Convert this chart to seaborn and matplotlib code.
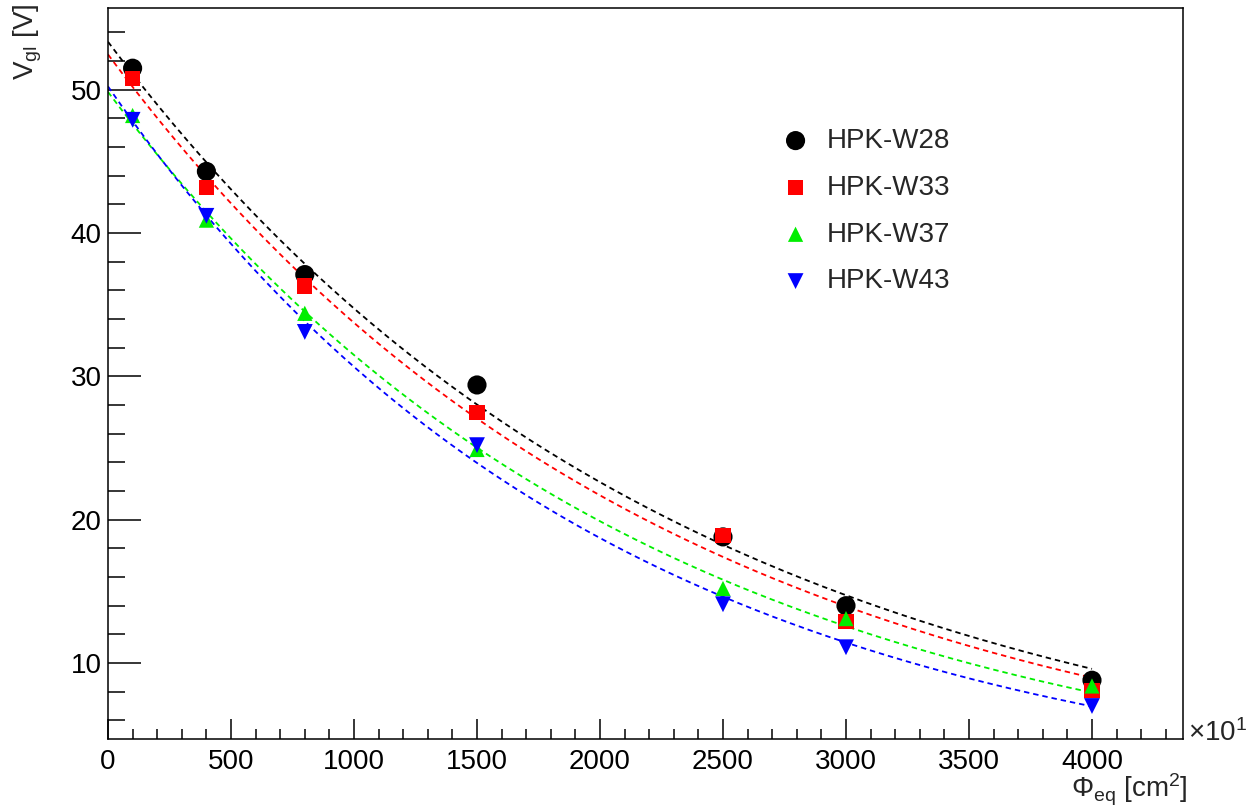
import numpy as np
import pandas as pd
import matplotlib
matplotlib.use("Agg")
import matplotlib.pyplot as plt
import seaborn as sns

# ---- data ----
fluence = [100, 400, 800, 1500, 2500, 3000, 4000]  # x10^1 cm^-2 units as displayed
w28 = [51.5, 44.3, 37.1, 29.4, 18.8, 14.0, 8.8]
w33 = [50.8, 43.2, 36.3, 27.5, 18.9, 12.9, 8.1]
w37 = [48.2, 40.9, 34.4, 24.9, 15.2, 13.1, 8.4]
w43 = [47.9, 41.2, 33.1, 25.2, 14.1, 11.1, 7.0]
labels = ["HPK-W28", "HPK-W33", "HPK-W37", "HPK-W43"]
colors = ["#000000", "#ff0000", "#00ee00", "#0000ff"]
markers = ["o", "s", "^", "v"]
msizes = [190, 120, 120, 130]
series = [w28, w33, w37, w43]

sns.set_theme(style="white")
plt.rcParams["font.family"] = ["Liberation Sans", "DejaVu Sans"]
plt.rcParams["mathtext.fontset"] = "custom"
plt.rcParams["mathtext.rm"] = "Liberation Sans"
plt.rcParams["mathtext.it"] = "Liberation Sans:italic"

FS = 20

fig = plt.figure(figsize=(12.46, 8.09), dpi=100)
ax = fig.add_axes([108 / 1246, 1 - 739 / 809, (1183 - 108) / 1246, (739 - 8) / 809])

rows = []
for lab, vals in zip(labels, series):
    for x, y in zip(fluence, vals):
        rows.append({"fluence": x, "V": y, "sample": lab})
df = pd.DataFrame(rows)

# exponential fits (weighted log-linear least squares)
xfit = np.linspace(0, 4000, 300)
for lab, col in zip(labels, colors):
    sub = df[df["sample"] == lab]
    xs = sub["fluence"].to_numpy(float)
    ys = sub["V"].to_numpy(float)
    b, a = np.polyfit(xs, np.log(ys), 1, w=ys)
    fit = pd.DataFrame({"x": xfit, "y": np.exp(a + b * xfit)})
    sns.lineplot(data=fit, x="x", y="y", ax=ax, color=col, lw=1.3,
                 linestyle=(0, (3, 2.2)), zorder=2)

for lab, col, m, s in zip(labels, colors, markers, msizes):
    sub = df[df["sample"] == lab]
    sns.scatterplot(data=sub, x="fluence", y="V", ax=ax, color=col, marker=m,
                    s=s, edgecolor="none", linewidth=0, zorder=3, label=lab)

ax.set_xlim(0, 4370)
ax.set_ylim(4.7, 55.7)
ax.set_xticks(np.arange(0, 4001, 500))
ax.set_xticks(np.arange(0, 4370, 100), minor=True)
ax.set_yticks(np.arange(10, 51, 10))
ax.set_yticks(np.arange(6, 56, 2), minor=True)
ax.tick_params(axis="both", which="both", direction="in", colors="black",
               labelsize=FS)
ax.tick_params(axis="x", which="major", length=14.5, width=1.1, pad=7.5)
ax.tick_params(axis="x", which="minor", length=7.2, width=1.1)
ax.tick_params(axis="y", which="major", length=24, width=1.1, pad=4.5)
ax.tick_params(axis="y", which="minor", length=12, width=1.1)
ax.tick_params(bottom=True, left=True, top=False, right=False, which="both")
for sp in ax.spines.values():
    sp.set_color("black")
    sp.set_linewidth(1.1)
ax.set_xlabel("")
ax.set_ylabel("")

fig.text(1188 / 1246, 1 - 798 / 809, r"$\mathrm{\Phi_{eq}}$ [cm$^{2}$]",
         ha="right", va="baseline", fontsize=FS)
fig.text(1188 / 1246, 1 - 733 / 809, r"$\times$10$^{1}$", ha="left",
         va="center", fontsize=FS)
fig.text(28 / 1246, 1 - 4 / 809, r"V$_{\mathrm{gl}}$ [V]", rotation=90,
         ha="center", va="top", fontsize=FS)

leg = ax.legend(loc="upper left", bbox_to_anchor=(765 / 1246, 1 - 114 / 809),
                bbox_transform=fig.transFigure, frameon=False, fontsize=FS,
                handletextpad=0.515, labelspacing=0.75, borderpad=0,
                handlelength=1.2)

fig.savefig("out.png", dpi=100, facecolor="white")
